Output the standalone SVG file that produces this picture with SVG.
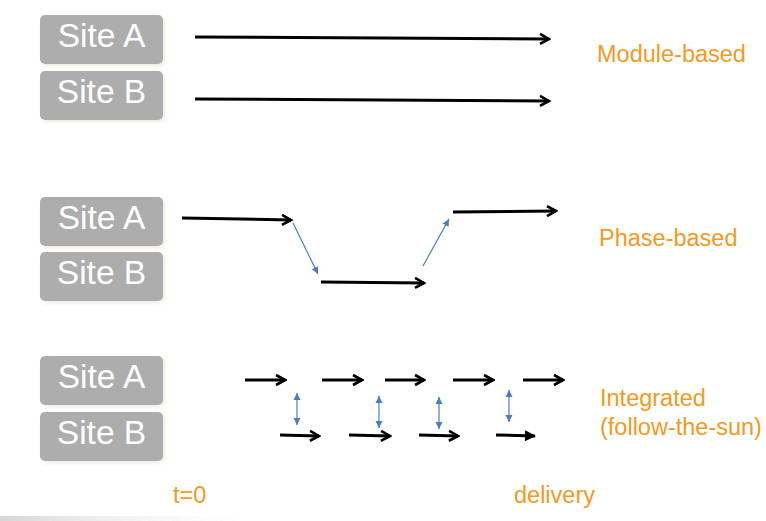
<svg xmlns="http://www.w3.org/2000/svg" width="766" height="521" viewBox="0 0 766 521">
<defs>
<style>
.box{fill:#adadad}
.site{font-family:"Liberation Sans",Arial,sans-serif;font-size:33.5px;fill:#ffffff}
.lbl{font-family:"Liberation Sans",Arial,sans-serif;font-size:23.5px;fill:#f5991f}
.blk{stroke:#000;stroke-width:3;fill:none}
.blu{stroke:#4a7ebb;stroke-width:1.2;fill:none}
</style>
<marker id="ah" markerUnits="userSpaceOnUse" viewBox="-12 -8 14 16" refX="0" refY="0" markerWidth="14" markerHeight="16" orient="auto">
<path d="M-9,-5 L0,0 L-9,5" fill="none" stroke="#000" stroke-width="2.6"/>
</marker>
<marker id="ahf" markerUnits="userSpaceOnUse" viewBox="-12 -8 14 16" refX="0" refY="0" markerWidth="14" markerHeight="16" orient="auto">
<path d="M-10,-5.5 L1,0 L-10,5.5 Z" fill="#000"/>
</marker>
<marker id="bh" markerUnits="userSpaceOnUse" viewBox="-8 -5 9 10" refX="0" refY="0" markerWidth="9" markerHeight="10" orient="auto">
<path d="M-7,-3.5 L0,0 L-7,3.5 Z" fill="#4a7ebb"/>
</marker>
<marker id="bt" markerUnits="userSpaceOnUse" viewBox="-1 -5 9 10" refX="0" refY="0" markerWidth="9" markerHeight="10" orient="auto">
<path d="M7,-3.5 L0,0 L7,3.5 Z" fill="#4a7ebb"/>
</marker>
<filter id="sh" x="-10%" y="-20%" width="120%" height="140%">
<feDropShadow dx="2" dy="2" stdDeviation="2" flood-color="#e8e6d8" flood-opacity="0.8"/>
</filter>
<linearGradient id="gr" x1="0" y1="0" x2="1" y2="0">
<stop offset="0" stop-color="#d6d6d6"/>
<stop offset="1" stop-color="#ffffff" stop-opacity="0"/>
</linearGradient>
</defs>
<rect x="0" y="516" width="280" height="5" fill="url(#gr)"/>

<g id="m-siteA"><rect class="box" x="40" y="15" width="123" height="49" rx="5" filter="url(#sh)"/><text class="site" x="101.5" y="47" text-anchor="middle">Site A</text></g>
<g id="m-siteB"><rect class="box" x="40" y="71" width="123" height="49" rx="5" filter="url(#sh)"/><text class="site" x="101.5" y="103" text-anchor="middle">Site B</text></g>
<g id="p-siteA"><rect class="box" x="40" y="197" width="123" height="49" rx="5" filter="url(#sh)"/><text class="site" x="101.5" y="229" text-anchor="middle">Site A</text></g>
<g id="p-siteB"><rect class="box" x="40" y="252" width="123" height="49" rx="5" filter="url(#sh)"/><text class="site" x="101.5" y="284" text-anchor="middle">Site B</text></g>
<g id="i-siteA"><rect class="box" x="40" y="356" width="123" height="49" rx="5" filter="url(#sh)"/><text class="site" x="101.5" y="388" text-anchor="middle">Site A</text></g>
<g id="i-siteB"><rect class="box" x="40" y="412" width="123" height="49" rx="5" filter="url(#sh)"/><text class="site" x="101.5" y="444" text-anchor="middle">Site B</text></g>

<g id="labels">
<text class="lbl" x="597" y="62">Module-based</text>
<text class="lbl" x="599" y="246">Phase-based</text>
<text class="lbl" x="600" y="406">Integrated</text>
<text class="lbl" x="600" y="435">(follow-the-sun)</text>
<text class="lbl" x="173" y="503">t=0</text>
<text class="lbl" x="514" y="503">delivery</text>
</g>

<g id="connectors">
<line class="blk" x1="195" y1="37" x2="549" y2="39" marker-end="url(#ah)"/>
<line class="blk" x1="195" y1="99" x2="549" y2="101" marker-end="url(#ah)"/>

<line class="blk" x1="182" y1="218" x2="291" y2="220" marker-end="url(#ah)"/>
<line class="blu" x1="293" y1="223" x2="318" y2="274" marker-end="url(#bh)"/>
<line class="blk" x1="321" y1="282" x2="424" y2="283" marker-end="url(#ah)"/>
<line class="blu" x1="423" y1="266" x2="449" y2="219" marker-end="url(#bh)"/>
<line class="blk" x1="453" y1="212" x2="556" y2="211" marker-end="url(#ah)"/>

<line class="blk" x1="245" y1="380" x2="285" y2="380" marker-end="url(#ah)"/>
<line class="blk" x1="322" y1="380" x2="362" y2="380" marker-end="url(#ah)"/>
<line class="blk" x1="385" y1="380" x2="424" y2="380" marker-end="url(#ah)"/>
<line class="blk" x1="453" y1="380" x2="493" y2="380" marker-end="url(#ah)"/>
<line class="blk" x1="523" y1="380" x2="563" y2="380" marker-end="url(#ah)"/>
<line class="blk" x1="280" y1="435" x2="319" y2="436" marker-end="url(#ah)"/>
<line class="blk" x1="349" y1="435" x2="390" y2="436" marker-end="url(#ah)"/>
<line class="blk" x1="419" y1="435" x2="458" y2="436" marker-end="url(#ah)"/>
<line class="blk" x1="496" y1="435" x2="535" y2="436" marker-end="url(#ahf)"/>

<line class="blu" x1="297" y1="393" x2="297" y2="425" marker-start="url(#bt)" marker-end="url(#bh)"/>
<line class="blu" x1="379" y1="396" x2="379" y2="428" marker-start="url(#bt)" marker-end="url(#bh)"/>
<line class="blu" x1="439" y1="397" x2="439" y2="429" marker-start="url(#bt)" marker-end="url(#bh)"/>
<line class="blu" x1="509" y1="390" x2="509" y2="422" marker-start="url(#bt)" marker-end="url(#bh)"/>
</g>
</svg>
